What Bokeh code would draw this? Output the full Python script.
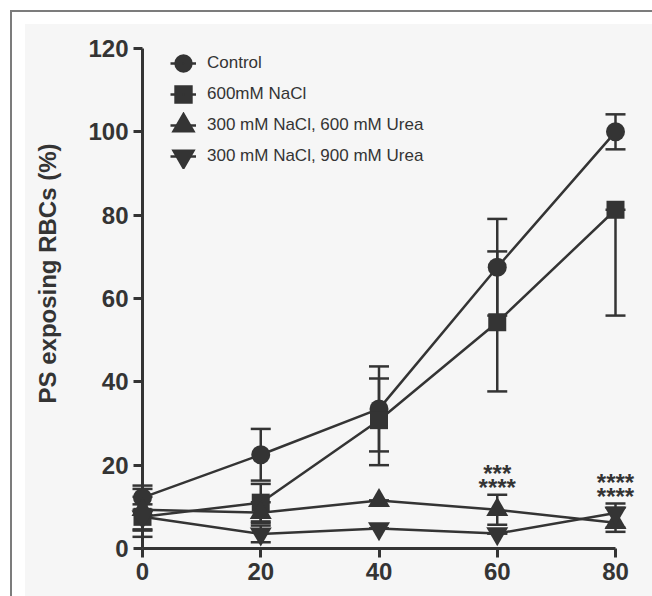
from bokeh.plotting import figure
from bokeh.models import (ColumnDataSource, Legend, LegendItem, FixedTicker,
                          Range1d, Title)
from bokeh.embed import file_html
from bokeh.resources import INLINE
from bokeh.core.properties import value

# Incubation time (min)
time_min = [0, 20, 40, 60, 80]
x_ticks = [0, 20, 40, 60, 80]
y_ticks = [0, 20, 40, 60, 80, 100, 120]

# Mean PS-exposing RBCs (%) with error bar lengths below / above the mean
control = [12.2, 22.5, 33.5, 67.5, 100.0]
control_err_lo = [2.9, 6.2, 10.2, 11.6, 4.2]
control_err_hi = [2.9, 6.2, 10.2, 11.6, 4.2]

nacl_600 = [7.6, 11.0, 30.8, 54.3, 81.3]
nacl_600_err_lo = [4.8, 4.5, 10.8, 16.6, 25.4]
nacl_600_err_hi = [4.8, 4.5, 10.0, 17.0, 0.0]

urea_600 = [9.3, 8.6, 11.5, 9.3, 6.2]
urea_600_err_lo = [5.0, 2.5, 0.0, 3.6, 2.2]
urea_600_err_hi = [5.0, 2.5, 0.0, 3.6, 3.6]

urea_900 = [7.6, 3.5, 4.8, 3.6, 8.5]
urea_900_err_lo = [3.0, 2.0, 0.0, 0.0, 3.5]
urea_900_err_hi = [3.0, 2.0, 0.0, 0.0, 2.3]

labels = ["Control", "600mM NaCl",
          "300 mM NaCl, 600 mM Urea", "300 mM NaCl, 900 mM Urea"]
y_title = "PS exposing RBCs (%)"

# Significance marks stacked above the urea error bars
sig_time = [60, 60, 80, 80]
sig_text = ["****", "***", "****", "****"]
sig_row = [0, 1, 0, 1]

INK = "#343434"
FONT = "Liberation Sans"
PANEL = "#f6f6f6"
RULE = "#7c7c7c"

p = figure(width=652, height=596, output_backend="svg", toolbar_location=None,
           x_range=Range1d(0, 80), y_range=Range1d(0, 120),
           min_border_left=142, min_border_right=37,
           min_border_top=48, min_border_bottom=48,
           background_fill_alpha=0, border_fill_alpha=0,
           outline_line_color=None)
p.grid.visible = False
# page backdrop: white, a thin grey rule along top/left, then a pale panel
p.styles = {"background": (
    f"linear-gradient({RULE},{RULE}) 10px 10px / 2px 100% no-repeat, "
    f"linear-gradient({RULE},{RULE}) 10px 10px / 100% 2px no-repeat, "
    f"linear-gradient({PANEL},{PANEL}) 25px 24px / 100% 100% no-repeat, "
    "white")}

series = [
    (labels[0], control, control_err_lo, control_err_hi, "circle", 19),
    (labels[1], nacl_600, nacl_600_err_lo, nacl_600_err_hi, "square", 18),
    (labels[2], urea_600, urea_600_err_lo, urea_600_err_hi, "triangle", 22),
    (labels[3], urea_900, urea_900_err_lo, urea_900_err_hi, "inverted_triangle", 22),
]

sources, lines = [], []
for name, vals, lo, hi, mk, sz in series:
    src = ColumnDataSource(dict(
        x=time_min, y=vals,
        lower=[v - e for v, e in zip(vals, lo)],
        upper=[v + e for v, e in zip(vals, hi)],
    ))
    sources.append(src)
    lines.append(p.line("x", "y", source=src, line_width=2.5, line_color=INK))

# error bars: stems plus flat caps
for src in sources:
    p.segment(x0="x", y0="lower", x1="x", y1="upper", source=src,
              line_width=2.5, line_color=INK, level="overlay")
    for end in ("lower", "upper"):
        p.scatter("x", end, source=src, marker="dash", size=20,
                  line_width=2.5, line_color=INK, level="overlay")

items = []
for (name, vals, lo, hi, mk, sz), src, ln in zip(series, sources, lines):
    p.scatter("x", "y", source=src, marker=mk, size=sz, fill_color=INK,
              line_color=None, level="overlay")
    # legend swatch: small marker with a thick outline so it reads at full size
    sw = p.scatter("x", "y", source=src, marker=mk, size=10.4, fill_color=INK,
                   line_color=INK, line_width=8, line_join="miter", visible=False)
    items.append(LegendItem(label=name, renderers=[ln, sw]))

# significance asterisks above the highest urea error bar at each time
tops = {t: max(a + ea, b + eb) for t, a, ea, b, eb in
        zip(time_min, urea_600, urea_600_err_hi, urea_900, urea_900_err_hi)}
sig_src = ColumnDataSource(dict(
    x=sig_time, y=[tops[t] for t in sig_time], text=sig_text,
    dy=[-7 - 14 * r for r in sig_row],
))
p.text("x", "y", text="text", source=sig_src, y_offset="dy",
       text_align="center", text_baseline="middle",
       text_font=value(FONT), text_font_size="24px", text_font_style="bold",
       text_color=INK, level="overlay")

legend = Legend(items=items, location=(28, 379), glyph_width=26, glyph_height=26,
                spacing=5, padding=0, margin=0, label_standoff=11,
                label_text_font=FONT, label_text_font_size="17px",
                label_text_color=INK, border_line_color=None,
                background_fill_alpha=0)
p.add_layout(legend)

p.xaxis.ticker = FixedTicker(ticks=x_ticks)
p.yaxis.ticker = FixedTicker(ticks=y_ticks)
for ax in (p.xaxis[0], p.yaxis[0]):
    ax.axis_line_width = 3
    ax.axis_line_color = INK
    ax.major_tick_line_width = 3
    ax.major_tick_line_color = INK
    ax.major_tick_out = 9
    ax.major_tick_in = 0
    ax.minor_tick_line_color = None
    ax.major_label_text_font = FONT
    ax.major_label_text_font_style = "bold"
    ax.major_label_text_font_size = "24px"
    ax.major_label_text_color = INK
    ax.major_label_standoff = 5

# y-axis title in its own side panel, started a fixed distance above the
# bottom so that it sits a little higher than the axis midpoint
p.add_layout(Title(text=y_title, align="left", vertical_align="middle",
                   offset=145, standoff=48,
                   text_font=FONT, text_font_style="bold",
                   text_font_size="24px", text_color=INK), "left")

open("out.html", "w").write(file_html(p, INLINE))
